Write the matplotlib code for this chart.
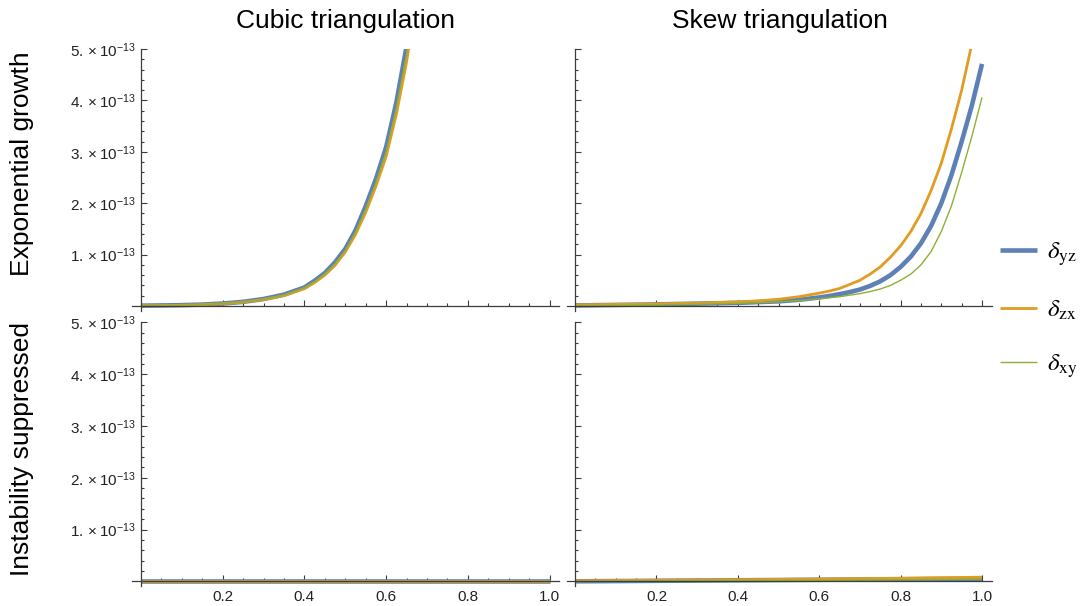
import matplotlib.pyplot as plt
from matplotlib.font_manager import FontProperties
from matplotlib.ticker import FixedLocator, FuncFormatter

plt.rcParams['font.family'] = ['Liberation Sans', 'DejaVu Sans']
plt.rcParams['mathtext.fontset'] = 'custom'
plt.rcParams['mathtext.rm'] = 'Liberation Sans'
plt.rcParams['mathtext.it'] = 'Liberation Sans:italic'

# values in units of 1e-13
cubic_x = [0, 0.05, 0.1, 0.15, 0.2, 0.25, 0.3, 0.35, 0.4, 0.425, 0.45, 0.475, 0.5,
           0.525, 0.55, 0.575, 0.6, 0.625, 0.65, 0.675, 0.7]
cubic_yz = [0.006, 0.010, 0.016, 0.027, 0.047, 0.080, 0.135, 0.22, 0.36, 0.49, 0.64, 0.85,
            1.11, 1.47, 1.94, 2.47, 3.09, 3.96, 5.05, 6.4, 8.0]
cubic_zx = [0.005, 0.008, 0.014, 0.025, 0.043, 0.074, 0.125, 0.20, 0.34, 0.455, 0.60, 0.79,
            1.05, 1.39, 1.82, 2.33, 2.91, 3.73, 4.75, 6.0, 7.6]
cubic_xy = [0.005, 0.009, 0.015, 0.026, 0.045, 0.077, 0.13, 0.21, 0.35, 0.47, 0.62, 0.82,
            1.08, 1.43, 1.88, 2.4, 3.0, 3.85, 4.9, 6.2, 7.8]

skew_x = [0, 0.1, 0.2, 0.3, 0.4, 0.45, 0.5, 0.55, 0.6, 0.625, 0.65, 0.675, 0.7, 0.725,
          0.75, 0.775, 0.8, 0.825, 0.85, 0.875, 0.9, 0.925, 0.95, 0.975, 1.0]
skew_yz = [0.01, 0.02, 0.03, 0.045, 0.06, 0.075, 0.09, 0.12, 0.165, 0.195, 0.23, 0.27, 0.32,
           0.39, 0.48, 0.60, 0.76, 0.96, 1.22, 1.56, 2.0, 2.55, 3.2, 3.9, 4.71]
skew_zx = [0.02, 0.03, 0.04, 0.055, 0.08, 0.10, 0.13, 0.18, 0.25, 0.29, 0.34, 0.42, 0.50,
           0.62, 0.76, 0.95, 1.17, 1.45, 1.80, 2.25, 2.78, 3.45, 4.2, 5.1, 6.3]
skew_xy = [0.005, 0.01, 0.02, 0.035, 0.05, 0.065, 0.08, 0.105, 0.14, 0.16, 0.18, 0.21, 0.24,
           0.28, 0.33, 0.40, 0.50, 0.62, 0.80, 1.06, 1.45, 1.95, 2.6, 3.3, 4.06]

supp_x = [0, 0.2, 0.4, 0.6, 0.8, 1.0]
cubic_supp_yz = [0.004, 0.004, 0.004, 0.004, 0.004, 0.004]
cubic_supp_zx = [0.003, 0.003, 0.003, 0.003, 0.003, 0.003]
cubic_supp_xy = [0.002, 0.002, 0.002, 0.002, 0.002, 0.002]
skew_supp_yz = [0.0, 0.01, 0.02, 0.03, 0.04, 0.05]
skew_supp_zx = [0.01, 0.02, 0.03, 0.045, 0.06, 0.08]
skew_supp_xy = [0.0, 0.01, 0.015, 0.02, 0.03, 0.04]

col_titles = ["Cubic triangulation", "Skew triangulation"]
row_titles = ["Exponential growth", "Instability suppressed"]
labels = [r"$\delta_{\mathrm{yz}}$", r"$\delta_{\mathrm{zx}}$", r"$\delta_{\mathrm{xy}}$"]
colors = ["#5E81B5", "#E19C24", "#8FB032"]
widths = [3.3, 2.0, 1.0]

W, H = 1086, 606
fig = plt.figure(figsize=(W / 100, H / 100), dpi=100)


def box(x0, x1, ytop, ybot):
    return [x0 / W, 1 - ybot / H, (x1 - x0) / W, (ybot - ytop) / H]


cols = [(132.4, 559.4), (566.5, 991.8)]
rows = [(49, 311.1), (322.5, 586.5)]

panels = [
    [(cubic_x, [cubic_yz, cubic_zx, cubic_xy]), (skew_x, [skew_yz, skew_zx, skew_xy])],
    [(supp_x, [cubic_supp_yz, cubic_supp_zx, cubic_supp_xy]),
     (supp_x, [skew_supp_yz, skew_supp_zx, skew_supp_xy])],
]

major_x = [0.2, 0.4, 0.6, 0.8, 1.0]
minor_x = [i * 0.05 for i in range(1, 21) if i % 4 != 0]
major_y = [1, 2, 3, 4, 5]
minor_y = [i * 0.2 for i in range(1, 26) if i % 5 != 0]


def ylab(v, pos):
    return r"$%d.\times10^{-13}$" % round(v)


handles = None
for r in range(2):
    for c in range(2):
        ax = fig.add_axes(box(cols[c][0], cols[c][1], rows[r][0], rows[r][1]))
        xs, series = panels[r][c]
        lines = []
        for ys, col, lw, lab in zip(series, colors, widths, labels):
            ln, = ax.plot(xs, ys, color=col, lw=lw, label=lab, solid_capstyle='butt')
            lines.append(ln)
        if handles is None:
            handles = lines
        ax.set_xlim(-0.021, 1.024)
        ax.set_ylim(-0.1, 5.0)
        for s in ['top', 'right']:
            ax.spines[s].set_visible(False)
        ax.spines['left'].set_position(('data', 0))
        ax.spines['bottom'].set_position(('data', 0))
        for s in ['left', 'bottom']:
            ax.spines[s].set_color('#3c3c3c')
            ax.spines[s].set_linewidth(0.9)
        ax.xaxis.set_major_locator(FixedLocator(major_x))
        ax.xaxis.set_minor_locator(FixedLocator(minor_x))
        ax.yaxis.set_major_locator(FixedLocator(major_y))
        ax.yaxis.set_minor_locator(FixedLocator(minor_y))
        ax.tick_params(which='both', direction='in', color='#3c3c3c', width=0.8,
                       labelsize=11, labelcolor='#222222')
        ax.tick_params(which='major', length=4.5)
        ax.tick_params(which='minor', length=2.5)
        ax.tick_params(axis='x', pad=6)
        ax.tick_params(axis='y', pad=4)
        ax.yaxis.set_major_formatter(FuncFormatter(ylab))
        if r == 0:
            ax.set_xticklabels([])
        if c == 1:
            ax.set_yticklabels([])
        ax.patch.set_alpha(0)

fig.text(345 / W, 1 - 21 / H, col_titles[0], ha='center', va='center', fontsize=19)
fig.text(780 / W, 1 - 21 / H, col_titles[1], ha='center', va='center', fontsize=19)
fig.text(22 / W, 1 - 164 / H, row_titles[0], ha='center', va='center', rotation=90, fontsize=19)
fig.text(22 / W, 1 - 449 / H, row_titles[1], ha='center', va='center', rotation=90, fontsize=19)

leg = fig.legend(handles=handles, loc='center left', bbox_to_anchor=(1000 / W, 1 - 310 / H),
                 frameon=False, prop=FontProperties(size=18, math_fontfamily='stix'),
                 handlelength=1.48, handletextpad=0.4, labelspacing=1.2, borderpad=0,
                 borderaxespad=0)

fig.savefig("out.png", dpi=100)
